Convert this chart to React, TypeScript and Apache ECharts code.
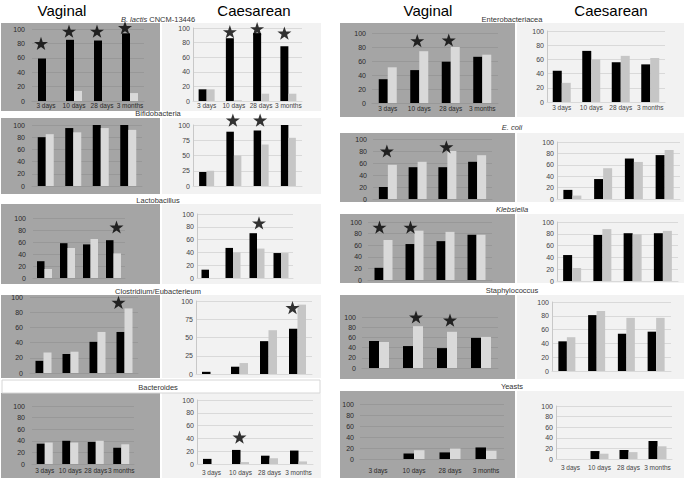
import React, { useEffect, useRef } from 'react';
import * as echarts from 'echarts';

const categories = ['3 days', '10 days', '28 days', '3 months'];
const organisms = [
  'B. lactis CNCM-13446', 'Bifidobacteria', 'Lactobacillus', 'Clostridium/Eubacterieum', 'Bacteroides',
  'Enterobacteriacea', 'E. coli', 'Klebsiella', 'Staphylococcus', 'Yeasts',
];
const sectionTitles = ['Vaginal', 'Caesarean'];

const vaginalBlack = [[59, 85, 84, 94], [80, 95, 100, 100], [28, 58, 56, 63], [16, 25, 41, 54], [35, 40, 38, 28],
  [34, 47, 59, 66], [20, 53, 53, 62], [21, 62, 67, 78], [53, 43, 39, 59], [0, 10, 12, 21]];
const vaginalGray = [[0, 14, 0, 11], [85, 88, 95, 92], [15, 50, 65, 41], [27, 28, 54, 85], [37, 37, 40, 34],
  [51, 74, 80, 69], [57, 62, 80, 73], [69, 85, 83, 78], [51, 82, 71, 61], [0, 16, 19, 15]];
const caesareanBlack = [[16, 86, 93, 75], [23, 89, 91, 100], [13, 47, 70, 39], [3, 10, 45, 62], [8, 22, 13, 21],
  [44, 72, 56, 53], [16, 35, 71, 77], [44, 78, 81, 81], [43, 81, 54, 57], [0, 15, 17, 34]];
const caesareanGray = [[16, 1, 10, 10], [25, 50, 68, 79], [0, 40, 46, 39], [0, 15, 60, 95], [0, 3, 9, 4],
  [27, 60, 65, 62], [6, 54, 65, 86], [22, 88, 79, 85], [49, 87, 77, 77], [0, 10, 13, 24]];
const N = null;
const vaginalStars = [[80, 97, 97, 102], [N, N, N, N], [N, N, N, 85], [N, N, N, 93], [N, N, N, N],
  [N, 89, 90, N], [80, N, 87, N], [91, 91, N, N], [N, 100, 94, N], [N, N, N, N]];
const caesareanStars = [[N, 95, 99, 93], [N, 108, 108, N], [N, N, 86, N], [N, N, N, 91], [N, 42, N, N],
  [N, N, N, N], [N, N, N, N], [N, N, N, N], [N, N, N, N], [N, N, N, N]];
const caesareanTickStep = [20, 25, 20, 25, 20, 20, 20, 20, 20, 20];

// ---- layout (pixels) ----
const vagGrid = [[32, 29, 112, 72], [32, 125, 110, 61], [33, 218, 92, 60], [30, 297, 108, 76], [32, 406, 102, 58],
  [372, 33, 126, 70], [373, 139, 119, 60], [368, 222, 124, 58], [362, 317, 136, 51], [360, 404, 144, 55]];
const caeGrid = [[193, 28, 109, 73], [193, 125, 109, 61], [197, 214, 96, 64], [196, 301, 116, 73], [197, 400, 116, 64],
  [547, 31, 118, 71], [557, 142, 123, 57], [557, 222, 121, 59], [552, 302, 119, 69], [556, 406, 116, 53]];
const rowBands = [[23, 88], [118, 76], [204, 80], [295, 83], [393, 85], [23, 94], [133, 69], [214, 69], [295, 84], [391, 87]];
const subtitlePos = [[158, 19], [158, 113], [158, 200], [158, 291], [158, 387], [512, 19], [512, 127], [512, 209], [512, 290], [512, 386]];
const vagBarW = [8, 8, 7.5, 8, 8, 9, 9, 9, 10, 10.5];
const caeBarW = [8, 7.5, 7.5, 8.5, 8.5, 9, 9, 9, 8.5, 9];
const vagStarShift = [-5, 0, 3, -6, 0, -2, -1, -4, 3, 0];
const caeStarShift = [-4, -1, 2, -5, -1, 0, 0, 0, 0, 0];
const vagXMargin = [1, 0, 0, 0, 3, 2, 0, 0, 0, 8];
const caeXMargin = [1, 0, 0, 0, 5, 2, 0, 0, 0, 5];

const FONT = '"Liberation Sans", Arial, sans-serif';
const STAR = 'path://M50,0 L61.8,35.1 L98.1,35.1 L68.8,56.7 L79.4,91 L50,70 L20.6,91 L31.2,56.7 L1.9,35.1 L38.2,35.1 Z';

function buildOption() {
  const grids: any[] = [];
  const xAxes: any[] = [];
  const yAxes: any[] = [];
  const series: any[] = [];
  const graphics: any[] = [];

  for (let p = 0; p < 10; p++) {
    const right = p >= 5;
    const [y, h] = rowBands[p];
    graphics.push({ type: 'rect', z: -10, silent: true, shape: { x: right ? 340 : 1, y, width: right ? 175 : 159, height: h }, style: { fill: '#a5a5a5' } });
    graphics.push({ type: 'rect', z: -10, silent: true, shape: { x: right ? 517 : 162, y, width: right ? 167 : 159, height: h }, style: { fill: '#f2f2f2' } });
  }
  graphics.push({ type: 'rect', z: -9, silent: true, shape: { x: 2, y: 380, width: 318, height: 13 }, style: { fill: '#ffffff', stroke: '#d6d6d6', lineWidth: 1 } });

  [[62, 254], [428, 611]].forEach((xs) => {
    sectionTitles.forEach((t, i) => {
      graphics.push({ type: 'text', x: xs[i], y: 10, style: { text: t, fontSize: 15, fontFamily: FONT, fill: '#000000', textAlign: 'center', textVerticalAlign: 'middle' } });
    });
  });
  organisms.forEach((name, p) => {
    const txt = p === 0 ? '{i|B. lactis} {n|CNCM-13446}' : (p === 6 || p === 7) ? `{i|${name}}` : `{n|${name}}`;
    graphics.push({
      type: 'text', x: subtitlePos[p][0], y: subtitlePos[p][1],
      style: {
        text: txt, fontSize: 7.5, fontFamily: FONT, fill: '#333333', textAlign: 'center', textVerticalAlign: 'middle',
        rich: {
          i: { fontStyle: 'italic', fontSize: 7.5, fontFamily: FONT, fill: '#333333', color: '#333333' },
          n: { fontSize: 7.5, fontFamily: FONT, fill: '#333333', color: '#333333' },
        },
      },
    });
  });

  const addPanel = (g: number[], dark: boolean, black: number[], gray: number[], stars: (number | null)[], step: number,
    bw: number, shift: number, showX: boolean, xMargin: number, yMargin: number) => {
    const idx = grids.length;
    grids.push({ left: g[0], top: g[1], width: g[2], height: g[3], containLabel: false });
    const split = dark ? '#989898' : '#d9d9d9';
    const lbl = dark ? '#2a2a2a' : '#444444';
    xAxes.push({
      type: 'category', gridIndex: idx, data: categories,
      axisTick: { show: false },
      axisLine: { show: true, lineStyle: { color: split, width: 1 } },
      axisLabel: { show: showX, fontSize: 6.5, color: lbl, margin: xMargin, fontFamily: FONT, interval: 0 },
    });
    yAxes.push({
      type: 'value', gridIndex: idx, min: 0, max: 100, interval: step,
      axisLine: { show: !dark, lineStyle: { color: '#c8c8c8' } },
      axisTick: { show: false },
      splitLine: { show: true, lineStyle: { color: split, width: 1 } },
      axisLabel: { fontSize: 7, color: lbl, margin: yMargin, fontFamily: FONT },
    });
    series.push({
      type: 'bar', xAxisIndex: idx, yAxisIndex: idx, data: black, barWidth: bw, barGap: '0%',
      itemStyle: { color: '#000000' }, z: 3,
    });
    series.push({
      type: 'bar', xAxisIndex: idx, yAxisIndex: idx, data: gray, barWidth: bw, barGap: '0%',
      itemStyle: { color: dark ? '#d9d9d9' : '#c6c6c6' }, z: 3,
    });
    const sd = stars.map((v, i) => (v == null ? null : [i, v])).filter((d) => d !== null);
    if (sd.length) {
      series.push({
        type: 'scatter', xAxisIndex: idx, yAxisIndex: idx, data: sd, symbol: STAR, symbolSize: 14,
        symbolKeepAspect: true, symbolOffset: [shift, 0], itemStyle: { color: '#000000' }, clip: false, z: 5,
      });
    }
  };

  for (let p = 0; p < 10; p++) {
    const row = p % 5;
    const showX = row === 0 || row === 4;
    addPanel(vagGrid[p], true, vaginalBlack[p], vaginalGray[p], vaginalStars[p], 20, vagBarW[p], vagStarShift[p], showX, vagXMargin[p], p < 5 ? 7 : 6);
    addPanel(caeGrid[p], false, caesareanBlack[p], caesareanGray[p], caesareanStars[p], caesareanTickStep[p], caeBarW[p], caeStarShift[p], showX, caeXMargin[p], 3);
  }

  return {
    animation: false,
    backgroundColor: '#ffffff',
    textStyle: { fontFamily: FONT, color: '#333333' },
    grid: grids,
    xAxis: xAxes,
    yAxis: yAxes,
    series,
    graphic: { elements: graphics },
  };
}

export default function App() {
  const ref = useRef<HTMLDivElement>(null);
  useEffect(() => {
    if (!ref.current) return;
    const chart = echarts.init(ref.current, undefined, { renderer: 'svg' });
    chart.setOption(buildOption() as any);
    return () => chart.dispose();
  }, []);
  return <div ref={ref} style={{ position: 'fixed', left: 0, top: 0, width: 684, height: 481 }} />;
}
